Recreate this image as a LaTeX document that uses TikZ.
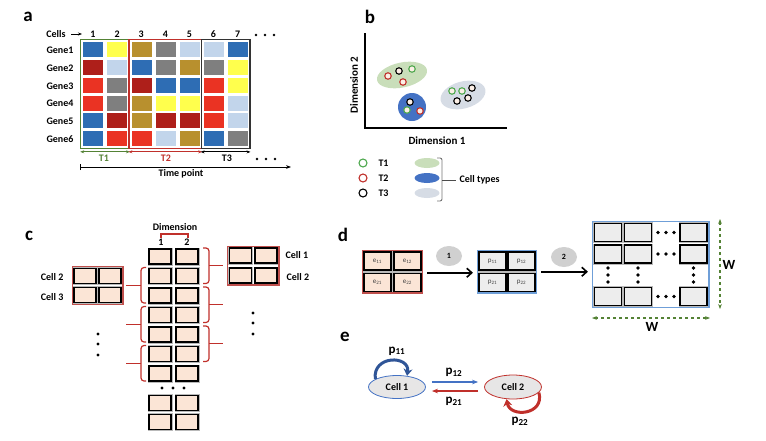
\documentclass[tikz,border=0pt]{standalone}
\usepackage{fontspec}
\setmainfont{Carlito}
\usetikzlibrary{arrows.meta,shapes.geometric,fit}
\definecolor{cblue}{HTML}{2E6DB4}
\definecolor{cyellow}{HTML}{FFFF4D}
\definecolor{cgold}{HTML}{B8902E}
\definecolor{cgray}{HTML}{7F7F7F}
\definecolor{clblue}{HTML}{C2D5EB}
\definecolor{cdred}{HTML}{AE1F1A}
\definecolor{cred}{HTML}{EA3323}
\definecolor{tgreen}{HTML}{548235}
\definecolor{tred}{HTML}{C0302B}
\definecolor{peach}{HTML}{FBE5D6}
\definecolor{lgray}{HTML}{EDEDED}
\definecolor{bxred}{HTML}{C0504D}
\definecolor{bxblue}{HTML}{6F9FD8}
\definecolor{egreen}{HTML}{C9DEBA}
\definecolor{eblue}{HTML}{4472C4}
\definecolor{egray}{HTML}{D6DCE5}
\definecolor{dgreen}{HTML}{4EA84E}
\definecolor{dotfill}{HTML}{FCEFE6}
\definecolor{ovgray}{HTML}{D0D0D0}
\definecolor{lblue}{HTML}{2F5597}
\definecolor{ecell}{HTML}{E7E6E6}
\begin{document}
\begin{tikzpicture}[x=1pt,y=-1pt,
  lab/.style={font=\fontsize{19}{20}\selectfont\bfseries},
  txt/.style={font=\fontsize{10}{11}\selectfont\bfseries},
  acell/.style={minimum width=21pt,minimum height=16pt,inner sep=0pt,draw=white,line width=0.4pt},
  pcell/.style={minimum width=22pt,minimum height=15pt,inner sep=0pt,fill=peach,draw=black,line width=1.8pt,preaction={draw=gray!55,line width=3pt}},
  dcell/.style={minimum width=27pt,minimum height=18pt,inner sep=0pt,fill=#1,draw=black,line width=1.8pt,preaction={draw=gray!55,line width=3pt},font=\fontsize{7}{8}\selectfont,text=black!75},
  sdot/.style={circle,draw=#1,line width=1.1pt,fill=dotfill,minimum size=6.5pt,inner sep=0pt},
  oval/.style={ellipse,fill=ovgray,minimum width=26pt,minimum height=20pt,inner sep=0pt,font=\fontsize{8}{9}\selectfont\bfseries},
  brc/.style={tred,line width=1.2pt}
]
\useasboundingbox (0,0) rectangle (766,440);

% ---------------- panel a ----------------
\node[lab] (la) at (28,17) {a};
\node[txt] (cellsl) at (56,34) {Cells};
\coordinate (cellsarr) at (82,34);
\draw[-{Stealth[length=4pt]},line width=0.8pt] ([xshift=2pt]cellsl.east) -- (cellsarr);
\foreach \j in {1,...,7} \node[txt] (n\j) at ({93+(\j-1)*24.1},34) {\j};
\foreach \x in {256,265,274} \fill (\x,35) circle (1.4pt);
\foreach \i/\row in {1/{cblue,cyellow,cgold,cgray,clblue,clblue,cblue},2/{cdred,clblue,cblue,cgray,cgold,cgray,cyellow},3/{cred,cgray,cdred,cblue,cblue,cred,cyellow},4/{cred,cgray,cgold,cyellow,cyellow,cred,clblue},5/{cblue,cdred,cgold,cdred,cdred,cred,clblue},6/{cblue,cred,cred,clblue,cgold,cblue,cgray}}{
  \node[txt,anchor=east] (g\i) at (77,{50+(\i-1)*17.9}) {Gene\i};
  \foreach \c [count=\j] in \row {
    \node[acell,fill=\c] (a\i-\j) at ({93+(\j-1)*24.1},{49+(\i-1)*17.9}) {};
  }
}
\node[draw=tgreen,line width=1.2pt,fit=(a1-1)(a6-2),inner sep=1.5pt] (T1box) {};
\node[draw=tred,line width=1.2pt,fit=(a1-3)(a6-5),inner sep=1.5pt] (T2box) {};
\node[draw=black!80,line width=1.4pt,fit=(a1-6)(a6-7),inner sep=1.5pt] (T3box) {};
\draw[tgreen,{Stealth[length=4pt]}-{Stealth[length=4pt]},line width=0.9pt] ([yshift=-3pt]T1box.south west) -- ([yshift=-3pt]T1box.south east);
\draw[tred,{Stealth[length=4pt]}-{Stealth[length=4pt]},line width=0.9pt] ([yshift=-3pt]T2box.south west) -- ([yshift=-3pt]T2box.south east);
\draw[black,{Stealth[length=4pt]}-{Stealth[length=4pt]},line width=0.9pt] ([yshift=-3pt]T3box.south west) -- ([yshift=-3pt]T3box.south east);
\node[txt,text=tgreen] (t1l) at (104,158) {T1};
\node[txt,text=tred] (t2l) at (166,158) {T2};
\node[txt] (t3l) at (227,158) {T3};
\foreach \x in {257,266,275} \fill (\x,159) circle (1.4pt);
\coordinate (tpa) at (80,167);
\coordinate (tpb) at (291,167);
\draw[{Bar[width=6pt]}-{Stealth[length=5pt]},line width=0.9pt] (tpa) -- (tpb);
\node[txt] (tpl) at (181,174) {Time point};

% ---------------- panel b ----------------
\node[lab] (lb) at (370,17) {b};
\coordinate (by) at (365,33);
\coordinate (bo) at (365,128);
\coordinate (bx) at (507,128);
\draw[line width=1.3pt] (by) -- (bo) -- (bx);
\node[font=\fontsize{11}{12}\selectfont\bfseries,rotate=90] (dim2) at (354,85) {Dimension 2};
\node[font=\fontsize{11}{12}\selectfont\bfseries] (dim1) at (437,141) {Dimension 1};
\node[ellipse,fill=egreen,minimum width=51pt,minimum height=25pt,rotate=12] (clA) at (402,75) {};
\node[circle,fill=eblue,minimum size=28pt] (clB) at (412,107) {};
\node[ellipse,fill=egray,minimum width=46pt,minimum height=27pt,rotate=15] (clC) at (463,95) {};
\node[sdot=black] (p1) at (399,71) {};
\node[sdot=dgreen] (p2) at (412,69) {};
\node[sdot=tred] (p3) at (388,76) {};
\node[sdot=tred] (p4) at (403,82) {};
\node[sdot=black] (p5) at (410,102) {};
\node[sdot=dgreen] (p6) at (407,110) {};
\node[sdot=tred] (p7) at (420,111) {};
\node[sdot=dgreen] (p8) at (452,91) {};
\node[sdot=dgreen] (p9) at (462,91) {};
\node[sdot=black] (p10) at (472,88) {};
\node[sdot=black] (p11) at (457,101) {};
\node[sdot=black] (p12) at (468,98) {};
\node[sdot=dgreen,minimum size=8pt,fill=white] (lg1) at (363,163) {};
\node[sdot=tred,minimum size=8pt,fill=white] (lg2) at (363,178) {};
\node[sdot=black,minimum size=8pt,fill=white] (lg3) at (363,193) {};
\node[txt,anchor=west] (lt1) at (375,163) {T1};
\node[txt,anchor=west] (lt2) at (375,178) {T2};
\node[txt,anchor=west] (lt3) at (375,193) {T3};
\node[ellipse,fill=egreen,minimum width=25pt,minimum height=10pt] (le1) at (427,163) {};
\node[ellipse,fill=eblue,minimum width=25pt,minimum height=10pt] (le2) at (427,178) {};
\node[ellipse,fill=egray,minimum width=25pt,minimum height=10pt] (le3) at (427,193) {};
\draw[black!55,line width=0.9pt,rounded corners=2pt] (437,158) -- (442,158) -- (442,201) -- (437,201);
\node[txt,anchor=west] (ctl) at (456,180) {Cell types};
\draw[black!70,line width=0.9pt] (442,180) -- (ctl.west);

% ---------------- panel c ----------------
\node[lab] (lc) at (29,236) {c};
\foreach \i in {1,...,7}{
  \node[pcell] (cl\i) at (160,{256.5+(\i-1)*19.5}) {};
  \node[pcell] (cr\i) at (187,{256.5+(\i-1)*19.5}) {};
}
\node[pcell] (cl8) at (160,403) {};
\node[pcell] (cr8) at (187,403) {};
\node[pcell] (cl9) at (160,422) {};
\node[pcell] (cr9) at (187,422) {};
\foreach \x in {162,173,184} \fill (\x,388) circle (1.6pt);
\node[txt] (dimc) at (175,227) {Dimension};
\draw[brc] (161,238) -- (161,234) -- (188,234) -- (188,238);
\node[txt] (d1) at (161,242) {1};
\node[txt] (d2) at (187,242) {2};
\foreach \k in {1,3,5}{
  \pgfmathsetmacro\yt{248+(\k-1)*19.5}
  \pgfmathsetmacro\yb{\yt+35.5}
  \pgfmathsetmacro\ym{\yt+17.75}
  \draw[brc,rounded corners=3pt] (203,\yt) -- (209,\yt) -- (209,\yb) -- (203,\yb);
  \draw[brc] (209,\ym) -- (223,\ym);
}
\foreach \k in {2,4,6}{
  \pgfmathsetmacro\yt{248+(\k-1)*19.5}
  \pgfmathsetmacro\yb{\yt+35.5}
  \pgfmathsetmacro\ym{\yt+17.75}
  \draw[brc,rounded corners=3pt] (146,\yt) -- (141,\yt) -- (141,\yb) -- (146,\yb);
  \draw[brc] (141,\ym) -- (126,\ym);
}
\node[pcell] (L11) at (85,276) {};
\node[pcell] (L12) at (110,276) {};
\node[pcell] (L21) at (85,295) {};
\node[pcell] (L22) at (110,295) {};
\node[draw=bxred,line width=1.2pt,fit=(L11)(L22),inner sep=1pt] (Lbox) {};
\node[txt,anchor=east] (lc2) at (67,277) {Cell 2};
\node[txt,anchor=east] (lc3) at (67,297) {Cell 3};
\foreach \y in {334,344,355} \fill (98,\y) circle (1.6pt);
\node[pcell] (R11) at (240.5,255.5) {};
\node[pcell] (R12) at (266,255.5) {};
\node[pcell] (R21) at (240.5,275.5) {};
\node[pcell] (R22) at (266,275.5) {};
\node[draw=bxred,line width=1.2pt,fit=(R11)(R22),inner sep=1pt] (Rbox) {};
\node[txt,anchor=west] (rc1) at (282,255) {Cell 1};
\node[txt,anchor=west] (rc2) at (283,277) {Cell 2};
\foreach \y in {313,323,334} \fill (253,\y) circle (1.6pt);

% ---------------- panel d ----------------
\node[lab] (ld) at (343,235) {d};
\node[dcell=peach] (e11) at (377.5,261) {e\textsubscript{11}};
\node[dcell=peach] (e12) at (407.5,261) {e\textsubscript{12}};
\node[dcell=peach] (e21) at (377.5,282.5) {e\textsubscript{21}};
\node[dcell=peach] (e22) at (407.5,282.5) {e\textsubscript{22}};
\node[draw=bxred,line width=1.3pt,fit=(e11)(e22),inner sep=0.5pt] (Ebox) {};
\node[dcell=lgray] (q11) at (492.5,261) {p\textsubscript{11}};
\node[dcell=lgray] (q12) at (521.5,261) {p\textsubscript{12}};
\node[dcell=lgray] (q21) at (492.5,282.5) {p\textsubscript{21}};
\node[dcell=lgray] (q22) at (521.5,282.5) {p\textsubscript{22}};
\node[draw=bxblue,line width=1.3pt,fit=(q11)(q22),inner sep=0.5pt] (Pbox) {};
\draw[-{Straight Barb[length=5pt,width=9pt]},line width=1.6pt] ([xshift=4pt,yshift=-1pt]Ebox.east) -- ([xshift=-4pt,yshift=-1pt]Pbox.west);
\node[oval] (o1) at (449,256) {1};
\foreach \r/\yy in {1/232.5,2/254,3/296.5}{
  \node[dcell=lgray] (w\r1) at (608,\yy) {};
  \node[dcell=lgray] (w\r2) at (638,\yy) {};
  \node[dcell=lgray] (w\r3) at (693.5,\yy) {};
  \foreach \x in {658,666,674} \fill (\x,\yy) circle (1.8pt);
}
\foreach \x in {608,638,693.5}{\foreach \y in {268,275,282} \fill (\x,\y) circle (1.8pt);}
\node[draw=bxblue,line width=1.3pt,fit=(w11)(w33),inner sep=1pt] (Wbox) {};
\draw[-{Straight Barb[length=5pt,width=9pt]},line width=1.6pt] ([xshift=4pt]Pbox.east) -- ([xshift=-4pt]Wbox.west |- Pbox.east);
\node[oval] (o2) at (564,257) {2};
\coordinate (wv1) at (720,219);
\coordinate (wv2) at (720,309);
\draw[tgreen,dashed,line width=1.3pt,{Stealth[length=5pt]}-{Stealth[length=5pt]}] (wv1) -- (wv2);
\node[font=\fontsize{14}{15}\selectfont\bfseries] (W1) at (729,265) {W};
\coordinate (wh1) at (592,318);
\coordinate (wh2) at (710,318);
\draw[tgreen,dashed,line width=1.3pt,{Stealth[length=5pt]}-{Stealth[length=5pt]}] (wh1) -- (wh2);
\node[font=\fontsize{14}{15}\selectfont\bfseries] (W2) at (652,327) {W};

% ---------------- panel e ----------------
\node[lab] (le) at (345,337) {e};
\node[ellipse,draw=eblue,fill=ecell,line width=0.8pt,minimum width=57pt,minimum height=23pt,txt] (ce1) at (397,387) {Cell 1};
\node[ellipse,draw=tred,fill=ecell,line width=0.8pt,minimum width=57pt,minimum height=24pt,txt] (ce2) at (513,387) {Cell 2};
\draw[eblue,line width=2pt,-{Stealth[length=6pt]}] ([shift={(6,-5)}]ce1.east) -- ([shift={(-6,-5)}]ce2.west);
\draw[tred,line width=2pt,-{Stealth[length=6pt]}] ([shift={(-6,4)}]ce2.west) -- ([shift={(6,4)}]ce1.east);
\node[font=\fontsize{13}{14}\selectfont\bfseries] (lp12) at (454,372) {p\textsubscript{12}};
\node[font=\fontsize{13}{14}\selectfont\bfseries] (lp21) at (454,401) {p\textsubscript{21}};
\draw[lblue,line width=3pt,-{Stealth[length=7pt,width=9pt]}] (ce1.160) .. controls (372,355) and (410,355) .. (ce1.48);
\node[font=\fontsize{13}{14}\selectfont\bfseries] (lp11) at (397,351) {p\textsubscript{11}};
\draw[tred,line width=3pt,-{Stealth[length=7pt,width=9pt]}] (ce2.-12) .. controls (545,415) and (510,418) .. (ce2.-118);
\node[font=\fontsize{13}{14}\selectfont\bfseries] (lp22) at (520,421) {p\textsubscript{22}};
\end{tikzpicture}
\end{document}
